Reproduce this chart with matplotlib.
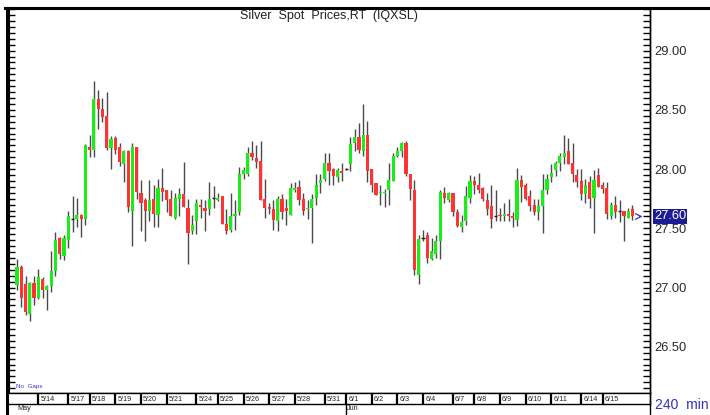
import matplotlib
matplotlib.use("Agg")
import matplotlib.pyplot as plt
import matplotlib.transforms as mtransforms
from matplotlib.lines import Line2D
from matplotlib.ticker import MultipleLocator, FormatStrFormatter
import numpy as np

plt.rcParams['font.family'] = ['Liberation Sans', 'DejaVu Sans']

# 240 min candles, Silver spot (IQXSL)
opens = [27.02, 27.17, 27.03, 26.78, 27.04, 26.91, 27.07, 26.98, 27.01, 27.14,
         27.42, 27.27, 27.40, 27.58, 27.58, 27.61, 27.58, 28.19, 28.16, 28.59,
         28.51, 28.45, 28.18, 28.26, 28.19, 28.04, 28.15, 27.65, 28.19, 27.80,
         27.74, 27.65, 27.75, 27.61, 27.84, 27.82, 27.75, 27.59, 27.75, 27.79,
         27.67, 27.48, 27.56, 27.70, 27.67, 27.66, 27.76, 27.74, 27.77, 27.54,
         27.49, 27.60, 27.64, 27.96, 27.96, 28.14, 28.09, 28.07, 27.75, 27.68,
         27.66, 27.56, 27.75, 27.67, 27.61, 27.82, 27.85, 27.75, 27.66, 27.67,
         27.76, 27.88, 27.92, 28.05, 28.00, 27.93, 27.98, 28.00, 28.04, 28.22,
         28.27, 28.15, 28.29, 28.00, 27.88, 27.80, 27.80, 27.82, 27.90, 28.11,
         28.15, 28.22, 27.96, 27.82, 27.11, 27.42, 27.44, 27.24, 27.28, 27.39,
         27.80, 27.74, 27.80, 27.64, 27.51, 27.56, 27.76, 27.90, 27.87, 27.84,
         27.74, 27.69, 27.60, 27.61, 27.60, 27.62, 27.60, 27.57, 27.91, 27.87,
         27.77, 27.70, 27.64, 27.69, 27.82, 27.93, 27.99, 28.05, 28.10, 28.15,
         28.05, 27.95, 27.90, 27.79, 27.89, 27.76, 27.95, 27.87, 27.84, 27.60,
         27.70, 27.65, 27.65, 27.59, 27.66]
highs = [27.24, 27.19, 27.10, 27.05, 27.10, 27.16, 27.09, 27.02, 27.31, 27.47,
         27.43, 27.44, 27.65, 27.77, 27.76, 27.62, 28.21, 28.29, 28.74, 28.67,
         28.60, 28.65, 28.28, 28.28, 28.22, 28.16, 28.16, 28.22, 28.19, 27.91,
         27.76, 27.91, 27.87, 27.92, 28.01, 27.82, 27.82, 27.80, 27.84, 28.06,
         27.75, 27.61, 27.75, 27.75, 27.74, 27.89, 27.86, 27.80, 27.77, 27.66,
         27.80, 27.74, 28.02, 28.02, 28.19, 28.24, 28.20, 28.24, 27.92, 27.71,
         27.74, 27.77, 27.79, 27.75, 27.88, 27.89, 27.91, 27.80, 27.74, 27.79,
         27.96, 27.96, 28.14, 28.14, 28.01, 28.01, 28.05, 28.01, 28.27, 28.34,
         28.39, 28.55, 28.41, 28.00, 27.88, 27.87, 27.83, 28.05, 28.14, 28.19,
         28.23, 28.24, 27.96, 27.91, 27.44, 27.49, 27.47, 27.42, 27.44, 27.82,
         27.85, 27.81, 27.80, 27.66, 27.61, 27.86, 27.95, 27.94, 27.97, 27.85,
         27.80, 27.87, 27.82, 27.67, 27.71, 27.75, 27.64, 28.01, 27.95, 27.88,
         27.82, 27.75, 27.75, 27.96, 27.96, 28.04, 28.07, 28.14, 28.29, 28.26,
         28.22, 28.00, 28.00, 27.92, 27.94, 27.99, 28.01, 27.89, 27.89, 27.72,
         27.77, 27.74, 27.65, 27.67, 27.70]
lows = [26.98, 26.84, 26.77, 26.72, 26.85, 26.90, 26.91, 26.81, 26.96, 27.10,
        27.24, 27.23, 27.33, 27.47, 27.51, 27.43, 27.53, 28.10, 28.10, 28.34,
        28.40, 28.16, 28.00, 28.13, 28.03, 27.89, 27.64, 27.35, 27.75, 27.48,
        27.39, 27.56, 27.51, 27.51, 27.73, 27.64, 27.60, 27.58, 27.60, 27.68,
        27.20, 27.45, 27.45, 27.59, 27.48, 27.61, 27.67, 27.73, 27.54, 27.45,
        27.47, 27.49, 27.61, 27.92, 27.94, 28.08, 28.01, 27.74, 27.59, 27.62,
        27.49, 27.48, 27.58, 27.53, 27.61, 27.81, 27.70, 27.61, 27.58, 27.38,
        27.70, 27.80, 27.90, 27.87, 27.87, 27.89, 27.90, 27.99, 27.98, 28.15,
        28.14, 28.11, 27.89, 27.81, 27.78, 27.70, 27.68, 27.70, 27.90, 28.10,
        28.10, 27.94, 27.74, 27.11, 27.03, 27.39, 27.21, 27.23, 27.25, 27.24,
        27.71, 27.72, 27.60, 27.51, 27.47, 27.53, 27.71, 27.79, 27.80, 27.73,
        27.61, 27.50, 27.56, 27.56, 27.56, 27.56, 27.51, 27.52, 27.72, 27.74,
        27.65, 27.61, 27.57, 27.46, 27.79, 27.89, 27.94, 27.98, 28.04, 28.04,
        27.89, 27.85, 27.74, 27.71, 27.67, 27.46, 27.85, 27.80, 27.58, 27.58,
        27.59, 27.55, 27.39, 27.59, 27.57]
closes = [27.17, 26.91, 26.79, 27.04, 26.91, 27.09, 26.98, 27.01, 27.14, 27.40,
          27.28, 27.42, 27.60, 27.58, 27.61, 27.58, 28.20, 28.16, 28.59, 28.51,
          28.44, 28.18, 28.25, 28.16, 28.06, 28.15, 27.68, 28.19, 27.81, 27.71,
          27.65, 27.74, 27.62, 27.84, 27.81, 27.74, 27.60, 27.76, 27.79, 27.68,
          27.46, 27.53, 27.71, 27.68, 27.65, 27.75, 27.76, 27.76, 27.54, 27.48,
          27.60, 27.62, 27.96, 27.99, 28.14, 28.10, 28.06, 27.74, 27.67, 27.66,
          27.57, 27.75, 27.64, 27.65, 27.84, 27.84, 27.74, 27.65, 27.67, 27.75,
          27.87, 27.91, 28.05, 27.98, 27.94, 27.99, 27.97, 28.00, 28.21, 28.27,
          28.16, 28.29, 27.98, 27.87, 27.78, 27.81, 27.81, 27.91, 28.11, 28.15,
          28.22, 27.96, 27.83, 27.15, 27.41, 27.42, 27.25, 27.31, 27.39, 27.81,
          27.76, 27.80, 27.64, 27.52, 27.55, 27.77, 27.90, 27.87, 27.82, 27.75,
          27.66, 27.58, 27.60, 27.60, 27.62, 27.60, 27.59, 27.91, 27.85, 27.75,
          27.69, 27.64, 27.69, 27.82, 27.92, 27.97, 28.05, 28.11, 28.14, 28.04,
          27.96, 27.89, 27.79, 27.87, 27.75, 27.91, 27.85, 27.83, 27.62, 27.70,
          27.64, 27.65, 27.60, 27.65, 27.60]

day_labels = ["5/14", "5/17", "5/18", "5/19", "5/20", "5/21", "5/24", "5/25",
              "5/26", "5/27", "5/28", "5/31", "6/1", "6/2", "6/3", "6/4",
              "6/7", "6/8", "6/9", "6/10", "6/11", "6/14", "6/15"]
day_starts = [5, 12, 17, 23, 29, 35, 42, 47, 53, 59, 65, 72, 77, 83, 89, 95,
              102, 107, 113, 119, 125, 132, 137]
month_labels = ["May", "Jun"]
month_starts = [0, 77]

W, H = 710, 415
fig = plt.figure(figsize=(W / 100, H / 100), dpi=100)
fig.patch.set_facecolor("white")

L, R, T, B = 8, 650, 8, 393
ax = fig.add_axes([L / W, (H - B) / H, (R - L) / W, (B - T) / H])
xlim = (-2.1, 148.1)
ax.set_xlim(*xlim)
ax.set_ylim(26.11, 29.36)

x = np.arange(len(closes))
o = np.array(opens)
c = np.array(closes)
up = c > o
down = c < o
flat = c == o

green = "#19ee19"
red = "#ff3333"
ax.vlines(x, lows, highs, color="#4a4a4a", linewidth=1.0, zorder=2)
ax.bar(x[up], (c - o)[up], bottom=o[up], width=0.74, color=green, zorder=3, linewidth=0)
ax.bar(x[down], (o - c)[down], bottom=c[down], width=0.74, color=red, zorder=3, linewidth=0)
ax.hlines(c[flat], x[flat] - 0.37, x[flat] + 0.37, color="#202020", linewidth=1.0, zorder=3)

# axes look
ax.yaxis.set_major_locator(MultipleLocator(0.5))
ax.yaxis.set_minor_locator(MultipleLocator(0.05))
ax.yaxis.set_major_formatter(FormatStrFormatter("%.2f"))
ax.tick_params(axis="y", which="both", left=True, right=True, labelleft=False,
               labelright=True, direction="in", length=5, width=1, color="black",
               labelsize=9.3, labelcolor="#2a2a2a", pad=3)
ax.tick_params(axis="x", bottom=False, labelbottom=False)
ax.spines["top"].set_visible(False)
ax.spines["left"].set_linewidth(2.2)
ax.spines["right"].set_linewidth(1.0)
ax.spines["bottom"].set_linewidth(1.0)

ax.text(0.5, 0.979, "Silver  Spot  Prices,RT  (IQXSL)", transform=ax.transAxes,
        ha="center", va="center", fontsize=9, color="#222222")
ax.text(0.0125, 0.016, "No  Gaps", transform=ax.transAxes, ha="left", va="center",
        fontsize=4.5, color="#3a3acc")

# last price marker
last = closes[-1]
trans = mtransforms.blended_transform_factory(ax.transAxes, ax.transData)
ax.text(1.006, last, f"{last:.2f}", transform=trans, ha="left", va="center",
        fontsize=9.3, color="white",
        bbox=dict(boxstyle="square,pad=0.08", facecolor="#1c1c96", edgecolor="none"))
ax.annotate("", xy=(147.0, last), xytext=(145.0, last),
            arrowprops=dict(arrowstyle="->", color="#3333cc", lw=0.9))

# date row
axd = fig.add_axes([L / W, (H - 404) / H, (R - L) / W, 11 / H])
axd.set_xlim(*xlim)
axd.set_ylim(0, 1)
axd.set_xticks([])
axd.set_yticks([])
for s in axd.spines.values():
    s.set_linewidth(1.0)
axd.spines["left"].set_visible(False)
for d, lab in zip(day_starts, day_labels):
    axd.axvline(d, color="black", linewidth=1.6)
    axd.text(d + 0.5, 0.45, lab, ha="left", va="center", fontsize=5.2, color="#222222")

# month row
axm = fig.add_axes([L / W, 0, (R - L) / W, 11 / H])
axm.set_xlim(*xlim)
axm.set_ylim(0, 1)
axm.axis("off")
for m, lab in zip(month_starts, month_labels):
    if m > 0:
        axm.axvline(m, color="black", linewidth=1.0)
        axm.text(m + 0.3, 0.55, lab, ha="left", va="center", fontsize=5.2, color="#222222")
    else:
        axm.text(m, 0.55, lab, ha="left", va="center", fontsize=5.2, color="#222222")

# outer frame lines
fig.add_artist(Line2D([5 / W, 1], [(H - 8) / H] * 2, color="black", linewidth=2.2))
fig.add_artist(Line2D([6.5 / W] * 2, [0, (H - 8) / H], color="black", linewidth=2.2))
fig.add_artist(Line2D([R / W] * 2, [0, (H - 8) / H], color="black", linewidth=1.0))

fig.text(655 / W, (H - 405) / H, "240  min", ha="left", va="center", fontsize=10,
         color="#3333bb")

fig.savefig("out.png", dpi=100)
